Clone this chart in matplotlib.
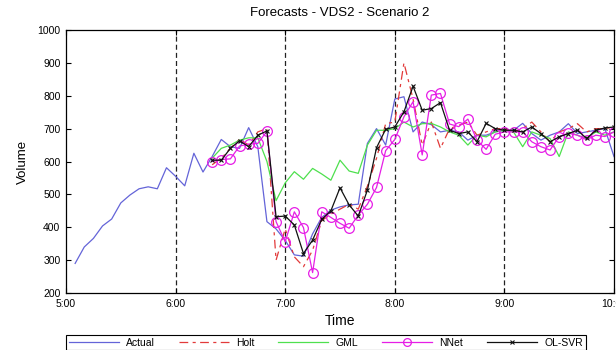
import matplotlib
matplotlib.use("Agg")
import matplotlib.pyplot as plt

plt.rcParams['font.family'] = ['Liberation Sans', 'DejaVu Sans']

# minutes after 5:00
actual_minutes = list(range(5, 301, 5))
forecast_minutes = list(range(80, 301, 5))

actual = [290, 340, 366, 404, 425, 474, 498, 517, 523, 517, 581, 555, 526, 625, 568,
          615, 667, 645, 640, 703, 645, 417, 395, 360, 316, 312, 380, 430, 452, 462,
          468, 470, 655, 700, 650, 790, 797, 690, 720, 712, 690, 695, 690, 665, 680,
          680, 690, 695, 695, 716, 685, 665, 680, 690, 715, 685, 690, 695, 700, 615]

holt = [590, 610, 640, 668, 650, 690, 700, 300, 395, 310, 280, 330, 420, 440, 455,
        470, 455, 525, 610, 715, 720, 900, 790, 650, 720, 640, 700, 710, 720, 680,
        690, 700, 700, 690, 700, 720, 690, 660, 690, 700, 715, 690, 700, 700, 705]

gml = [610, 640, 650, 665, 672, 672, 600, 481, 535, 569, 546, 579, 562, 543, 604,
       571, 564, 650, 695, 695, 700, 720, 705, 715, 716, 705, 690, 680, 650, 680,
       675, 690, 695, 690, 645, 690, 680, 670, 615, 690, 680, 670, 690, 680, 690]

nnet = [600, 606, 608, 647, 653, 655, 692, 417, 356, 447, 399, 262, 447, 430, 412,
        397, 437, 470, 521, 633, 667, 736, 782, 620, 802, 807, 714, 706, 729, 665,
        637, 683, 690, 690, 690, 660, 645, 635, 676, 686, 680, 666, 680, 676, 690]

olsvr = [604, 604, 640, 663, 645, 680, 693, 432, 434, 407, 320, 361, 424, 450, 520,
         468, 434, 513, 642, 698, 705, 751, 829, 756, 761, 779, 695, 685, 690, 660,
         716, 700, 695, 695, 690, 705, 685, 660, 675, 685, 695, 670, 695, 702, 705]

hour_ticks = [0, 60, 120, 180, 240, 300]
hour_labels = ['5:00', '6:00', '7:00', '8:00', '9:00', '10:00']
divider_minutes = [60, 120, 180, 240]
y_ticks = [200, 300, 400, 500, 600, 700, 800, 900, 1000]

fig = plt.figure(figsize=(6.16, 3.5), dpi=100)
ax = fig.add_axes([66/616, 1-293/350, 548/616, 263/350])

for m in divider_minutes:
    ax.axvline(m, color='#222222', linestyle=(0, (4, 2.5)), linewidth=0.9, zorder=1)

ax.plot(actual_minutes, actual, color='#6464d8', linewidth=0.9, label='Actual', zorder=2)
ax.plot(forecast_minutes, holt, color='#e23a3a', linewidth=0.9,
        linestyle=(0, (7, 3.5, 2.5, 3.5)), label='Holt', zorder=3)
ax.plot(forecast_minutes, gml, color='#4ee04e', linewidth=0.9, label='GML', zorder=3)
ax.plot(forecast_minutes, nnet, color='#e61ee6', linewidth=0.9, marker='o',
        markersize=7, markerfacecolor='none', markeredgewidth=0.9,
        label='NNet', zorder=4)
ax.plot(forecast_minutes, olsvr, color='#111111', linewidth=0.9, marker='x',
        markersize=3.5, markeredgewidth=0.8, label='OL-SVR', zorder=5)

ax.set_xlim(0, 300)
ax.set_ylim(200, 1000)
ax.set_xticks(hour_ticks)
ax.set_xticklabels(hour_labels)
ax.set_yticks(y_ticks)
ax.tick_params(direction='in', length=3.5, width=0.8, labelsize=7.5,
               top=True, right=True, pad=4)
for s in ax.spines.values():
    s.set_linewidth(0.9)

ax.set_title('Forecasts - VDS2 - Scenario 2', fontsize=9.5, pad=10)
ax.set_xlabel('Time', fontsize=10, labelpad=4)
ax.set_ylabel('Volume', fontsize=9.5, labelpad=6)

leg = fig.legend(loc='upper left', bbox_to_anchor=(66/616, 1-335/350), ncol=5,
                 fontsize=7.5, handlelength=4.8, handletextpad=0.7,
                 columnspacing=2.3, borderpad=0.25, borderaxespad=0, numpoints=1,
                 markerscale=0.8,
                 frameon=True, fancybox=False, edgecolor='black', framealpha=1)
leg.get_frame().set_linewidth(0.8)

fig.savefig('out.png', dpi=100)
